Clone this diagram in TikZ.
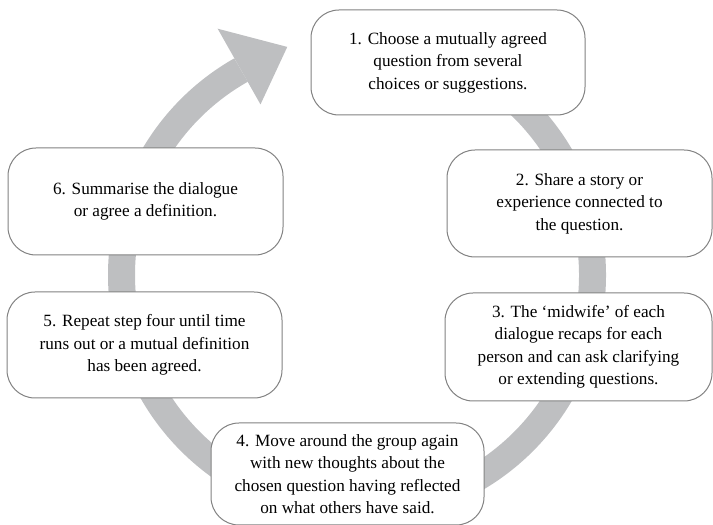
\documentclass[tikz,border=0pt]{standalone}
\usepackage{fontspec}
\setmainfont{Liberation Serif}
\definecolor{ringgray}{RGB}{190,191,193}
\definecolor{boxline}{RGB}{130,130,130}
\begin{document}
\begin{tikzpicture}[x=1pt,y=1pt,
  stepbox/.style={draw=boxline, line width=1pt, fill=white, rounded corners=28pt,
    align=center, inner sep=0pt, font=\fontsize{17.2}{22.5}\selectfont}]
\useasboundingbox (0,0) rectangle (713,525);
\coordinate (c) at (357,250);
% ring with arrowhead
\draw[ringgray, line width=27pt] ([shift={(95:235.5)}]c) arc[start angle=95, end angle=-240.5, radius=235.5];
\fill[ringgray] ([shift={(119.5:196)}]c) -- ([shift={(107:238.5)}]c) -- ([shift={(119.5:283)}]c) -- cycle;
% boxes
\node[stepbox, minimum width=274pt, minimum height=105pt] (s1) at (448,462.5)
  {1. Choose a mutually agreed\\question from several\\choices or suggestions.};
\node[stepbox, minimum width=265pt, minimum height=107pt] (s2) at (579.5,321.5)
  {2. Share a story or\\experience connected to\\the question.};
\node[stepbox, minimum width=267pt, minimum height=108pt] (s3) at (578.5,178)
  {3. The ‘midwife’ of each\\dialogue recaps for each\\person and can ask clarifying\\or extending questions.};
\node[stepbox, minimum width=273pt, minimum height=102pt] (s4) at (347.5,51)
  {4. Move around the group again\\with new thoughts about the\\chosen question having reflected\\on what others have said.};
\node[stepbox, minimum width=275pt, minimum height=106pt] (s5) at (144.5,180)
  {5. Repeat step four until time\\runs out or a mutual definition\\has been agreed.};
\node[stepbox, minimum width=275pt, minimum height=107pt] (s6) at (145.5,323.5)
  {6. Summarise the dialogue\\or agree a definition.};
\end{tikzpicture}
\end{document}
